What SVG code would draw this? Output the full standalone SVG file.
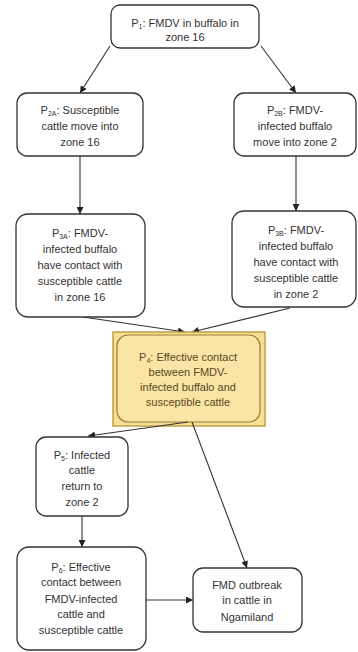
<svg xmlns="http://www.w3.org/2000/svg" width="358" height="652" viewBox="0 0 358 652">
<defs>
<marker id="ah" viewBox="0 0 10 10" refX="10" refY="5" markerWidth="7" markerHeight="7" markerUnits="userSpaceOnUse" orient="auto">
<path d="M0,0 L10,5 L0,10 z" fill="#222"/>
</marker>
</defs>
<style>
.box{fill:#fff;stroke:#333;stroke-width:1.3}
.t{font-family:"Liberation Sans",Arial,sans-serif;font-size:11px;fill:#333;text-anchor:middle}
.t4{font-family:"Liberation Sans",Arial,sans-serif;font-size:11px;fill:#5a4820;text-anchor:middle}
.s{font-size:7px}
.c{fill:none;stroke:#333;stroke-width:1.1;marker-end:url(#ah)}
</style>
<rect width="358" height="652" fill="#fff"/>
<g id="connectors">
<line class="c" x1="110" y1="46" x2="80" y2="93"/>
<line class="c" x1="261" y1="46" x2="296" y2="93"/>
<line class="c" x1="80" y1="156" x2="80" y2="214"/>
<line class="c" x1="296" y1="156" x2="296" y2="211"/>
<line class="c" x1="83" y1="317" x2="185" y2="332"/>
<line class="c" x1="290" y1="308" x2="192" y2="332"/>
<line class="c" x1="82" y1="516" x2="82" y2="547"/>
<line class="c" x1="146" y1="600" x2="193" y2="600"/>
</g>
<g id="p1">
<rect class="box" x="111" y="5" width="148" height="43" rx="9"/>
<text class="t" x="185" y="27">P<tspan class="s" dy="2">1</tspan><tspan dy="-2">: FMDV in buffalo in</tspan></text>
<text class="t" x="185" y="41">zone 16</text>
</g>
<g id="p2a">
<rect class="box" x="17" y="93" width="126" height="63" rx="10"/>
<text class="t" x="80" y="114">P<tspan class="s" dy="2">2A</tspan><tspan dy="-2">: Susceptible</tspan></text>
<text class="t" x="80" y="130">cattle move into</text>
<text class="t" x="80" y="146">zone 16</text>
</g>
<g id="p2b">
<rect class="box" x="234" y="93" width="122" height="63" rx="10"/>
<text class="t" x="295" y="114">P<tspan class="s" dy="2">2B</tspan><tspan dy="-2">: FMDV-</tspan></text>
<text class="t" x="295" y="130">infected buffalo</text>
<text class="t" x="295" y="146">move into zone 2</text>
</g>
<g id="p3a">
<rect class="box" x="16" y="214" width="129" height="103" rx="12"/>
<text class="t" x="80" y="237">P<tspan class="s" dy="2">3A</tspan><tspan dy="-2">: FMDV-</tspan></text>
<text class="t" x="80" y="253">infected buffalo</text>
<text class="t" x="80" y="269">have contact with</text>
<text class="t" x="80" y="285">susceptible cattle</text>
<text class="t" x="80" y="301">in zone 16</text>
</g>
<g id="p3b">
<rect class="box" x="232" y="211" width="124" height="96" rx="12"/>
<text class="t" x="296" y="234">P<tspan class="s" dy="2">3B</tspan><tspan dy="-2">: FMDV-</tspan></text>
<text class="t" x="296" y="250">infected buffalo</text>
<text class="t" x="296" y="266">have contact with</text>
<text class="t" x="296" y="282">susceptible cattle</text>
<text class="t" x="296" y="298">in zone 2</text>
</g>
<g id="p4">
<rect x="113" y="332" width="152" height="94" fill="#f8df98" stroke="#b8932a" stroke-width="1.3"/>
<rect x="117" y="335" width="143" height="87" rx="11" fill="#fae4a6" stroke="#9c7e30" stroke-width="1.2"/>
<text class="t4" x="188" y="361">P<tspan class="s" dy="2">4</tspan><tspan dy="-2">: Effective contact</tspan></text>
<text class="t4" x="188" y="376">between FMDV-</text>
<text class="t4" x="188" y="391">infected buffalo and</text>
<text class="t4" x="188" y="406">susceptible cattle</text>
</g>
<g id="connectors2">
<line class="c" x1="188" y1="422" x2="88" y2="436"/>
<line class="c" x1="192" y1="422" x2="247" y2="568"/>
</g>
<g id="p5">
<rect class="box" x="36" y="437" width="92" height="79" rx="10"/>
<text class="t" x="82" y="459">P<tspan class="s" dy="2">5</tspan><tspan dy="-2">: Infected</tspan></text>
<text class="t" x="82" y="474">cattle</text>
<text class="t" x="82" y="490">return to</text>
<text class="t" x="82" y="506">zone 2</text>
</g>
<g id="p6">
<rect class="box" x="17" y="547" width="129" height="103" rx="12"/>
<text class="t" x="81" y="571">P<tspan class="s" dy="2">6</tspan><tspan dy="-2">: Effective</tspan></text>
<text class="t" x="81" y="586">contact between</text>
<text class="t" x="81" y="603">FMDV-infected</text>
<text class="t" x="81" y="618">cattle and</text>
<text class="t" x="81" y="634">susceptible cattle</text>
</g>
<g id="outbreak">
<rect class="box" x="193" y="568" width="109" height="64" rx="10"/>
<text class="t" x="247" y="589">FMD outbreak</text>
<text class="t" x="247" y="604">in cattle in</text>
<text class="t" x="247" y="621">Ngamiland</text>
</g>
</svg>
